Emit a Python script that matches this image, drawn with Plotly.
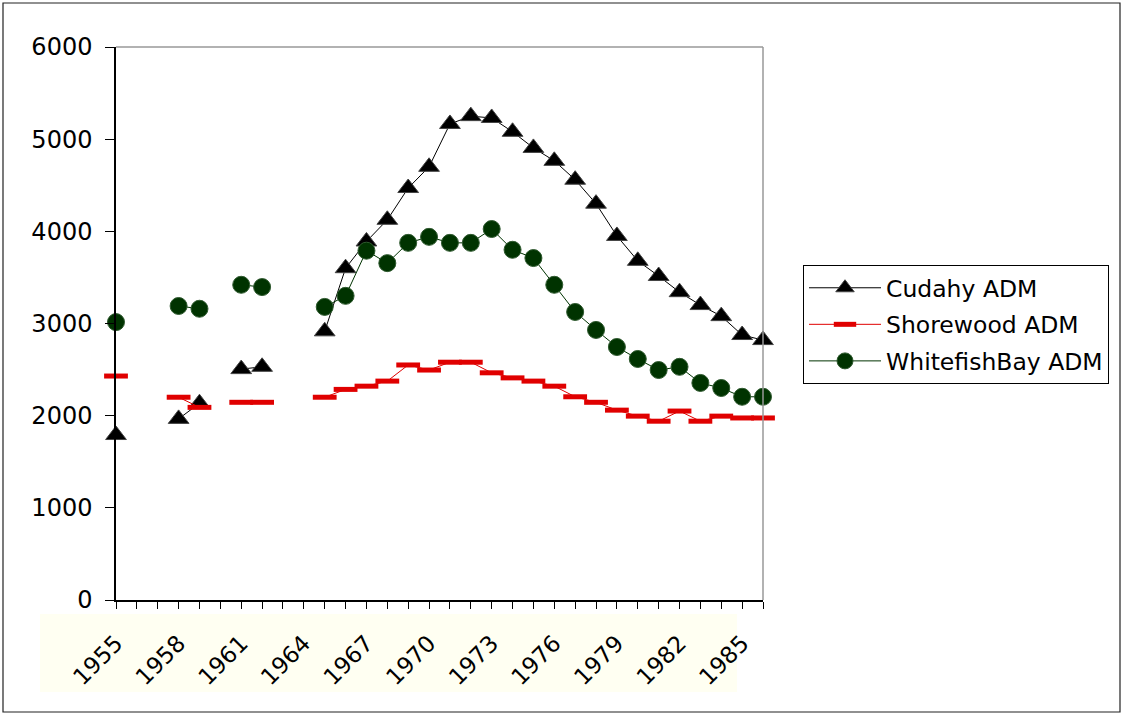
import plotly.graph_objects as go

years = list(range(1955, 1987))
tick_years = years[::3]
tick_labels = [str(y) for y in tick_years]

cudahy = [1790, None, None, 1965, 2135, None, 2505, 2530, None, None,
          2915, 3600, 3890, 4125, 4470, 4700, 5165, 5250, 5230, 5080,
          4905, 4765, 4560, 4300, 3950, 3680, 3515, 3340, 3200, 3080,
          2875, 2820]
shorewood = [2430, None, None, 2200, 2090, None, 2145, 2145, None, None,
             2200, 2285, 2320, 2375, 2550, 2495, 2580, 2580, 2465, 2410,
             2375, 2320, 2205, 2145, 2060, 1995, 1940, 2050, 1940, 1995,
             1975, 1975]
whitefish = [3015, None, None, 3190, 3160, None, 3420, 3395, None, None,
             3180, 3300, 3790, 3655, 3875, 3940, 3875, 3875, 4025, 3800,
             3710, 3420, 3125, 2930, 2745, 2615, 2495, 2530, 2355, 2300,
             2205, 2205]

names = ["Cudahy ADM", "Shorewood ADM", "WhitefishBay ADM"]

FONT = "DejaVu Sans"

fig = go.Figure()
fig.add_trace(go.Scatter(
    x=years, y=cudahy, name=names[0], mode="lines+markers", legendgroup="a",
    line=dict(color="black", width=1),
    marker=dict(symbol="triangle-up", size=18, color="black",
                line=dict(color="#444", width=1)),
    cliponaxis=False, connectgaps=False))
fig.add_trace(go.Scatter(
    x=years, y=shorewood, name=names[1], mode="lines+markers", legendgroup="b",
    line=dict(color="#e00000", width=1),
    marker=dict(symbol="line-ew", size=17, color="#e00000",
                line=dict(color="#e00000", width=5)),
    cliponaxis=False, connectgaps=False))
fig.add_trace(go.Scatter(
    x=years, y=whitefish, name=names[2], mode="lines+markers", legendgroup="c",
    line=dict(color="#003300", width=1),
    marker=dict(symbol="circle", size=17, color="#003300",
                line=dict(color="#2f5a2f", width=1)),
    cliponaxis=False, connectgaps=False))

L, R, T, B = 116, 360, 47, 115
W, H = 1123, 715
pw, ph = W - L - R, H - T - B


def px_x(px):
    return (px - L) / pw


def px_y(py):
    return (H - B - py) / ph


shapes = [
    # cream band behind category labels
    dict(type="rect", xref="paper", yref="paper", layer="below",
         x0=px_x(40), x1=px_x(737), y0=px_y(692), y1=px_y(614),
         fillcolor="#fffff2", line=dict(width=0)),
    # plot-area top and right border
    dict(type="line", xref="paper", yref="paper", x0=0, x1=1, y0=1, y1=1,
         line=dict(color="#999999", width=1.5)),
    dict(type="line", xref="paper", yref="paper", x0=1, x1=1, y0=0, y1=1,
         line=dict(color="#999999", width=1.5)),
    # outer frame
    dict(type="rect", xref="paper", yref="paper",
         x0=px_x(3), x1=px_x(1120), y0=px_y(712), y1=px_y(3),
         line=dict(color="#222222", width=1.2), fillcolor="rgba(0,0,0,0)"),
]

fig.update_layout(
    width=W, height=H,
    margin=dict(l=L, r=R, t=T, b=B),
    paper_bgcolor="white", plot_bgcolor="white",
    font=dict(family=FONT, color="black"),
    showlegend=True,
    legend=dict(x=px_x(803), y=px_y(265), xanchor="left", yanchor="top",
                bordercolor="black", borderwidth=1, bgcolor="white",
                font=dict(family=FONT, size=23.5, color="black"),
                itemwidth=72, tracegroupgap=3),
    shapes=shapes,
    xaxis=dict(
        range=[years[0], years[-1]], showgrid=False, zeroline=False,
        showline=True, linecolor="black", linewidth=1.5,
        tickmode="array", tickvals=tick_years, ticktext=tick_labels,
        ticks="outside", ticklen=7, tickcolor="black", tickwidth=1.2,
        tickangle=-45, tickfont=dict(family=FONT, size=23, color="black"),
        ticklabelstandoff=12,
        minor=dict(dtick=1, tick0=years[0], ticks="outside", ticklen=7,
                   tickcolor="black", tickwidth=1.2, showgrid=False),
    ),
    xaxis2=dict(
        overlaying="x", anchor="y", side="bottom", matches="x",
        range=[years[0], years[-1]], showgrid=False, zeroline=False,
        showline=False, showticklabels=False,
        tickmode="linear", tick0=years[0], dtick=1,
        ticks="inside", ticklen=7, tickcolor="black", tickwidth=1.2,
    ),
    yaxis=dict(
        range=[0, 6000], showgrid=False, zeroline=False,
        showline=True, linecolor="black", linewidth=1.5,
        tickmode="linear", tick0=0, dtick=1000,
        ticks="outside", ticklen=9, tickcolor="black", tickwidth=1.2,
        tickfont=dict(family=FONT, size=24, color="black"),
        ticklabelstandoff=8,
    ),
    yaxis2=dict(
        overlaying="y", anchor="x", side="left", matches="y",
        range=[0, 6000], showgrid=False, zeroline=False,
        showline=False, showticklabels=False,
        tickmode="linear", tick0=0, dtick=1000,
        ticks="inside", ticklen=8, tickcolor="black", tickwidth=1.2,
    ),
)

fig.write_html("out.html", config={"displayModeBar": False},
               post_script="document.body.style.margin='0px';")
